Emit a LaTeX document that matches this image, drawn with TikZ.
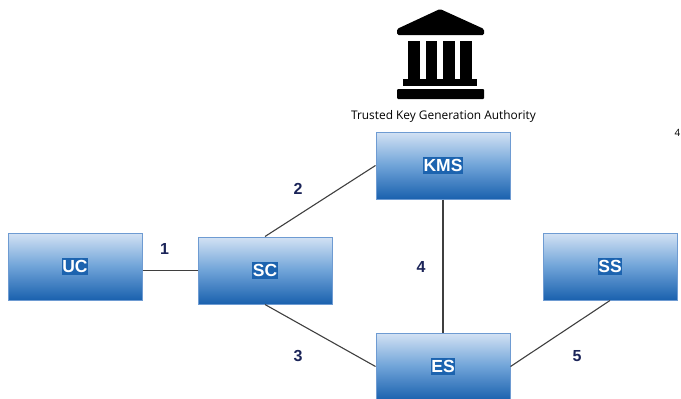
\documentclass[tikz,border=0pt]{standalone}
\usepackage{fontspec}
\setmainfont{Liberation Sans}
\newfontfamily\captfont{Open Sans}
\definecolor{boxtop}{HTML}{D3E2F4}
\definecolor{boxmid}{HTML}{6FA3D8}
\definecolor{boxbot}{HTML}{1A61AE}
\definecolor{boxedge}{HTML}{6E9BD2}
\definecolor{lab}{HTML}{1C63AF}
\definecolor{navy}{HTML}{1B2458}
\definecolor{wire}{HTML}{3F3F3F}
\tikzset{
 x=1pt,y=-1pt,
 blockbox/.style={draw=boxedge,line width=1pt,minimum width=134pt,minimum height=67pt,inner sep=0pt,
   top color=boxtop,bottom color=boxbot,middle color=boxmid},
 blocktext/.style={fill=lab,text=white,font=\fontsize{17.5}{17.5}\selectfont\bfseries,inner xsep=0.5pt,inner ysep=2.5pt},
 wirelink/.style={draw=wire,line width=1.1pt},
 numlabel/.style={text=navy,font=\fontsize{16}{16}\selectfont\bfseries,inner sep=0pt},
}
\begin{document}
\begin{tikzpicture}
\useasboundingbox (0,0) rectangle (681,399);
\clip (0,0) rectangle (681,399);
\node[blockbox] (UC) at (75,266.5) {};
\node[blockbox] (SC) at (265,270.5) {};
\node[blockbox] (KMS) at (443,165.5) {};
\node[blockbox] (SS) at (610,266.5) {};
\node[blockbox] (ES) at (443,366.5) {};
\node[blocktext] (tUC) at (UC.center) {UC};
\node[blocktext] (tSC) at (SC.center) {SC};
\node[blocktext] (tKMS) at (KMS.center) {KMS};
\node[blocktext] (tSS) at (SS.center) {SS};
\node[blocktext] (tES) at (ES.center) {ES};
\draw[wirelink] (UC.east |- SC.west) -- (SC.west);
\draw[wirelink] (SC.north) -- (KMS.west);
\draw[wirelink] (SC.south) -- (ES.west);
\draw[wirelink] (KMS.south) -- (ES.north);
\draw[wirelink] (ES.east) -- (SS.south);
\node[numlabel] (n1) at (164.5,249) {1};
\node[numlabel] (n2) at (298,189) {2};
\node[numlabel] (n3) at (298,356) {3};
\node[numlabel] (n4) at (421,267) {4};
\node[numlabel] (n5) at (577,356) {5};
% building icon
\fill[black,rounded corners=1.5pt] (440,9) -- (397,29) -- (397,35) -- (484,35) -- (484,29) -- cycle;
\fill[black] (408,41) rectangle (420,79);
\fill[black] (426,41) rectangle (437,79);
\fill[black] (443,41) rectangle (455,79);
\fill[black] (460,41) rectangle (472,79);
\fill[black] (403,79) rectangle (477,86);
\fill[black,rounded corners=1pt] (397,89) rectangle (484,99);
\node[font=\captfont\fontsize{11.9}{12}\selectfont,inner sep=0pt] (cap) at (443.5,116.5) {Trusted Key Generation Authority};
\node[font=\captfont\fontsize{10}{12}\selectfont,inner sep=0pt,anchor=east] (stray) at (680.5,133) {4};
\end{tikzpicture}
\end{document}
